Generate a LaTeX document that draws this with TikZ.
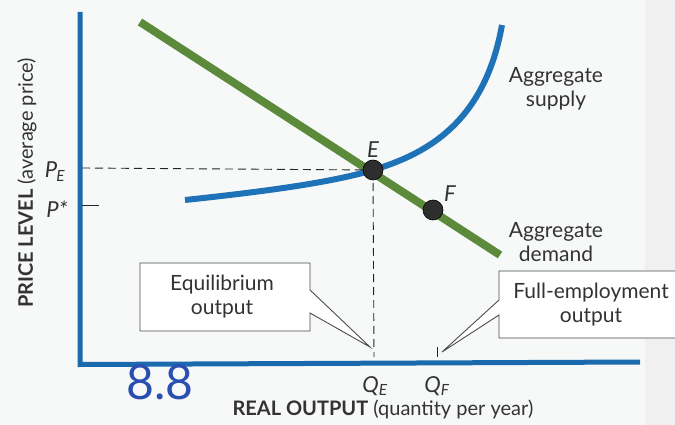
\documentclass[tikz,border=0pt]{standalone}
\usepackage{fontspec}
\setmainfont{Lato}
\begin{document}
\begin{tikzpicture}[x=1pt,y=-1pt,
  axis/.style={draw=axisblue,line width=5pt},
  curveAS/.style={draw=asblue,line width=6pt},
  curveAD/.style={draw=adgreen,line width=8pt},
  dot/.style={circle,fill=dotgray,draw=black,line width=0.6pt,minimum size=20pt,inner sep=0pt},
  guide/.style={draw=black!85,line width=0.9pt,dash pattern=on 8pt off 5pt},
  callout/.style={draw=black!70,line width=0.9pt,fill=white},
  lbl/.style={font=\fontsize{21}{24}\selectfont,text=black!80,align=center},
  var/.style={font=\fontsize{22}{24}\selectfont\itshape,text=black!80,inner sep=0pt}]
\definecolor{axisblue}{HTML}{1B6AAE}
\definecolor{asblue}{HTML}{1D72B8}
\definecolor{adgreen}{HTML}{5A8A3A}
\definecolor{dotgray}{HTML}{2E2E2E}
\definecolor{bg}{HTML}{F7F8F8}
\definecolor{handblue}{HTML}{2A4FB0}
\useasboundingbox (0,0) rectangle (675,425);
\fill[bg] (0,0) rectangle (675,425);
\fill[black!6] (645,0) rectangle (675,425);
% axes
\coordinate (O) at (80,362);
\coordinate (Ytop) at (80,12);
\coordinate (Xend) at (640,362);
\draw[axis] (Ytop) -- (80,364.5) -- (Xend);
% curves
\coordinate (ADs) at (140,22);
\coordinate (ADe) at (500,255);
\draw[curveAD] (ADs) -- (ADe);
\coordinate (ASs) at (185,200);
\coordinate (Ept) at (373,170);
\coordinate (ASe) at (502,25);
\draw[curveAS] (ASs) .. controls (260,192) and (330,183) .. (Ept)
  .. controls (430,153) and (485,120) .. (ASe);
% guides
\coordinate (PEa) at (82,168);
\coordinate (QEa) at (374,357);
\draw[guide] (PEa) -- (Ept);
\draw[guide] (Ept) -- (QEa);
\coordinate (Pst0) at (82,205);
\coordinate (Pst1) at (99,205);
\draw[black!85,line width=1pt] (Pst0) -- (Pst1);
\coordinate (QF0) at (437,347);
\coordinate (QF1) at (437,357);
\draw[black!85,line width=1pt] (QF0) -- (QF1);
% dots
\node[dot] (E) at (Ept) {};
\node[dot] (F) at (433,210) {};
\node[var] (Elbl) at (373,150) {E};
\node[var] (Flbl) at (450,194) {F};
% axis value labels
\node[var] (PE) at (55,172) {P\textsubscript{\kern-1pt E}};
\node[var] (Pstar) at (57,209) {P*};
\node[var] (QE) at (375,386) {Q\textsubscript{E}};
\node[var] (QF) at (437,386) {Q\textsubscript{F}};
% curve labels
\node[lbl] (ASl) at (556,89) {Aggregate\\supply};
\node[lbl] (ADl) at (556,242) {Aggregate\\demand};
% callouts
\draw[callout] (140,263) -- (310,263) -- (310,290) -- (370,347) -- (310,313) -- (310,331) -- (140,331) -- cycle;
\node[lbl] (EQl) at (222,297) {Equilibrium\\output};
\draw[callout] (499,271) -- (677,271) -- (677,338) -- (499,338) -- (499,315) -- (442,352) -- (499,300) -- cycle;
\node[lbl] (FEl) at (591,305) {Full-employment\\output};
% axis titles
\node[font=\fontsize{20}{23}\selectfont,text=black!80,anchor=west] (xt) at (229,409) {\textbf{REAL OUTPUT} (quantity per year)};
\node[font=\fontsize{20}{23}\selectfont,text=black!80,rotate=90] (yt) at (27,183) {\textbf{PRICE LEVEL} (average price)};
% handwritten annotation
\node[font=\fontsize{48}{50}\selectfont,text=handblue] (hw) at (160,382) {8.8};
\end{tikzpicture}
\end{document}
